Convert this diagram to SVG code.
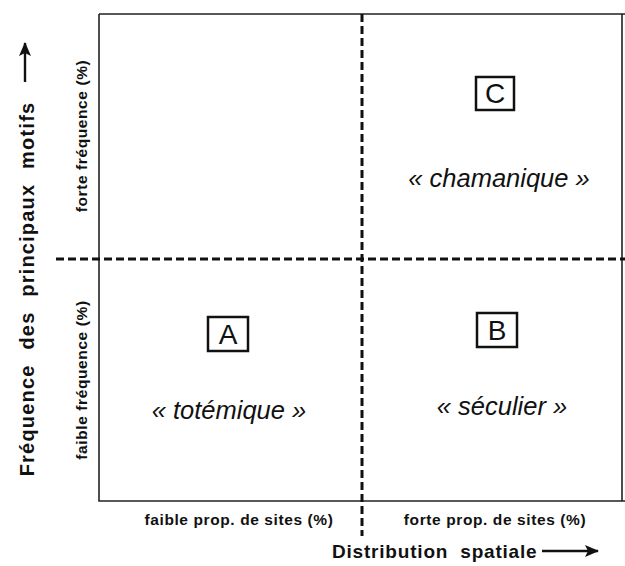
<svg xmlns="http://www.w3.org/2000/svg" width="625" height="566" viewBox="0 0 625 566">
<style>
.frame{fill:none;stroke:#222;stroke-width:1.6}
.dash{fill:none;stroke:#111;stroke-width:3;stroke-dasharray:8 4}
.lab{font-family:"Liberation Sans",Arial,sans-serif;font-weight:bold;font-size:15.5px;fill:#111;letter-spacing:0.6px}
.title{font-family:"Liberation Sans",Arial,sans-serif;font-weight:bold;font-size:19px;fill:#111;letter-spacing:0.8px}
.ytitle{font-family:"Liberation Sans",Arial,sans-serif;font-weight:bold;font-size:20px;fill:#111;letter-spacing:1.2px}
.letter{font-family:"Liberation Sans",Arial,sans-serif;font-size:28px;fill:#111}
.name{font-family:"Liberation Sans",Arial,sans-serif;font-style:italic;font-size:25.5px;fill:#111}
.box{fill:none;stroke:#111;stroke-width:2.5}
.arr{fill:none;stroke:#111;stroke-width:2.4}
</style>
<defs>
<marker id="ah" markerWidth="14" markerHeight="12" refX="13" refY="6" orient="auto" markerUnits="userSpaceOnUse">
<path d="M0,0 L14,6 L0,12 L3,6 Z" fill="#111"/>
</marker>
</defs>
<rect width="625" height="566" fill="#fff"/>
<g id="frame">
<path class="frame" d="M99,14 H627 M99,14 V501 H627 M622,14 V501"/>
</g>
<g id="connectors">
<line class="dash" x1="56" y1="259" x2="625" y2="259"/>
<line class="dash" x1="362" y1="14" x2="362" y2="536"/>
<line class="arr" x1="25" y1="82" x2="25" y2="43" marker-end="url(#ah)"/>
<line class="arr" x1="542" y1="551" x2="598" y2="551" marker-end="url(#ah)"/>
</g>
<g id="axis-y">
<text class="ytitle" transform="translate(34,289) rotate(-90)" text-anchor="middle" word-spacing="8">Fréquence des principaux motifs</text>
<text class="lab" transform="translate(87,136) rotate(-90)" text-anchor="middle">forte fréquence (%)</text>
<text class="lab" transform="translate(87,380) rotate(-90)" text-anchor="middle">faible fréquence (%)</text>
</g>
<g id="axis-x">
<text class="lab" x="239" y="525" text-anchor="middle">faible prop. de sites (%)</text>
<text class="lab" x="495" y="525" text-anchor="middle">forte prop. de sites (%)</text>
<text class="title" x="332" y="558" word-spacing="6">Distribution spatiale</text>
</g>
<g id="node-C">
<rect class="box" x="476" y="77" width="38" height="33"/>
<text class="letter" x="495" y="103" text-anchor="middle">C</text>
<text class="name" x="499" y="187" text-anchor="middle">« chamanique »</text>
</g>
<g id="node-A">
<rect class="box" x="208" y="317" width="40" height="34"/>
<text class="letter" x="228" y="344" text-anchor="middle">A</text>
<text class="name" x="229" y="419" text-anchor="middle">« totémique »</text>
</g>
<g id="node-B">
<rect class="box" x="477" y="313" width="40" height="34"/>
<text class="letter" x="497" y="340" text-anchor="middle">B</text>
<text class="name" x="502" y="415" text-anchor="middle">« séculier »</text>
</g>
</svg>
